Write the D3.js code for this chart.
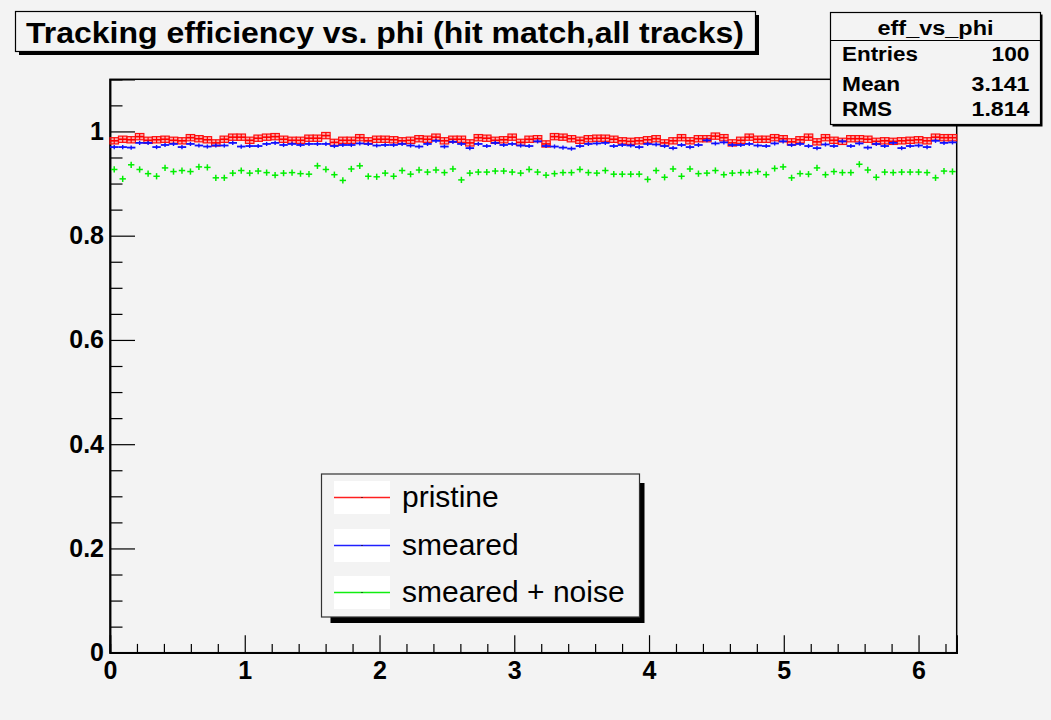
<!DOCTYPE html>
<html>
<head>
<meta charset="utf-8">
<script src="https://cdn.jsdelivr.net/npm/d3@7"></script>
<style>
  html, body { margin: 0; padding: 0; background: #f3f3f3; }
  svg { display: block; }
  text { font-family: "Liberation Sans", Arial, Helvetica, sans-serif; }
</style>
</head>
<body>
<svg id="c" width="1051" height="720"></svg>
<script>
// Efficiency per phi bin (100 bins over [0, 2*pi])
const pristine = [
  0.982,0.985,0.984,0.990,0.983,0.984,0.985,0.983,0.982,0.988,
  0.986,0.984,0.978,0.985,0.989,0.989,0.983,0.987,0.989,0.990,
  0.985,0.983,0.983,0.987,0.987,0.992,0.979,0.983,0.983,0.988,
  0.982,0.985,0.985,0.984,0.982,0.983,0.986,0.985,0.989,0.982,
  0.985,0.985,0.978,0.988,0.987,0.983,0.984,0.989,0.979,0.985,
  0.986,0.976,0.990,0.989,0.986,0.983,0.986,0.987,0.987,0.985,
  0.982,0.981,0.982,0.984,0.986,0.978,0.982,0.988,0.982,0.986,
  0.986,0.991,0.988,0.978,0.983,0.989,0.985,0.985,0.988,0.986,
  0.980,0.984,0.989,0.980,0.988,0.983,0.981,0.986,0.986,0.985,
  0.981,0.982,0.981,0.982,0.983,0.984,0.982,0.989,0.988,0.988
];
const smeared = [
  0.970,0.970,0.969,0.978,0.978,0.970,0.974,0.976,0.970,0.976,
  0.973,0.971,0.973,0.973,0.978,0.971,0.972,0.972,0.976,0.978,
  0.974,0.976,0.974,0.976,0.976,0.976,0.972,0.974,0.974,0.977,
  0.976,0.973,0.974,0.974,0.976,0.973,0.971,0.976,0.982,0.971,
  0.980,0.976,0.968,0.976,0.972,0.978,0.974,0.976,0.973,0.972,
  0.981,0.972,0.971,0.969,0.967,0.972,0.976,0.977,0.978,0.972,
  0.974,0.973,0.970,0.976,0.975,0.972,0.968,0.974,0.970,0.974,
  0.983,0.977,0.979,0.974,0.974,0.976,0.973,0.972,0.977,0.981,
  0.974,0.976,0.972,0.968,0.975,0.972,0.981,0.972,0.977,0.969,
  0.976,0.972,0.978,0.968,0.972,0.973,0.970,0.982,0.978,0.979
];
const smearedNoise = [
  0.927,0.909,0.936,0.927,0.919,0.914,0.930,0.923,0.925,0.923,
  0.932,0.931,0.911,0.911,0.920,0.925,0.920,0.924,0.921,0.916,
  0.920,0.921,0.919,0.918,0.934,0.927,0.917,0.906,0.928,0.934,
  0.914,0.913,0.920,0.914,0.925,0.918,0.926,0.922,0.926,0.921,
  0.928,0.907,0.920,0.922,0.922,0.924,0.924,0.922,0.920,0.927,
  0.922,0.916,0.919,0.921,0.921,0.927,0.921,0.920,0.925,0.918,
  0.918,0.918,0.918,0.908,0.925,0.912,0.928,0.914,0.928,0.919,
  0.920,0.925,0.917,0.920,0.921,0.921,0.923,0.917,0.929,0.932,
  0.911,0.919,0.918,0.930,0.917,0.923,0.921,0.921,0.937,0.926,
  0.912,0.922,0.921,0.922,0.922,0.922,0.921,0.911,0.924,0.923
];
// statistical uncertainty per bin for each sample
const errPristine = 0.006;
const errSmeared = 0.004;
const errNoise = 0.006;

const nBins = 100;
const phiMax = 2 * Math.PI;
const yMax = 1.1;

const titleText = "Tracking efficiency vs. phi (hit match,all tracks)";
const statsName = "eff_vs_phi";
const statsLabels = ["Entries", "Mean", "RMS"];
const statsValues = ["100", "3.141", "1.814"];
const legendLabels = ["pristine", "smeared", "smeared + noise"];
const xMajorTicks = [0, 1, 2, 3, 4, 5, 6];
const yMajorTicks = [0, 0.2, 0.4, 0.6, 0.8, 1.0];
const yTickLabels = ["0", "0.2", "0.4", "0.6", "0.8", "1"];

const svg = d3.select("#c");
const bg = "#f3f3f3";
svg.append("rect").attr("width", 1051).attr("height", 720).attr("fill", bg);

const x = d3.scaleLinear().domain([0, phiMax]).range([110, 956.7]);
const y = d3.scaleLinear().domain([0, yMax]).range([652.7, 79.3]);
const binW = phiMax / nBins;
const bins = d3.range(nBins).map(i => ({ lo: i * binW, hi: (i + 1) * binW, mid: (i + 0.5) * binW }));

// frame
svg.append("rect")
  .attr("x", x(0)).attr("y", y(yMax))
  .attr("width", x(phiMax) - x(0)).attr("height", y(0) - y(yMax))
  .attr("fill", bg).attr("stroke", "#000").attr("stroke-width", 1.5);

// axes: ticks drawn inward
const labelFont = 'bold 25px "Liberation Sans", Arial, Helvetica, sans-serif';
svg.append("g").attr("transform", `translate(${x(0)},0)`)
  .call(d3.axisLeft(y).tickValues(yMajorTicks).tickSize(-25).tickPadding(6)
    .tickFormat((d, i) => yTickLabels[i]));
svg.append("g").attr("transform", `translate(${x(0)},0)`)
  .call(d3.axisLeft(y).tickValues(d3.range(1, 22).map(k => k * 0.05).filter((v, k) => (k + 1) % 4 !== 0))
    .tickSize(-12.5).tickFormat(""));
svg.append("g").attr("transform", `translate(0,${y(0)})`)
  .call(d3.axisBottom(x).tickValues(xMajorTicks).tickSize(-17.5).tickPadding(9).tickFormat(d3.format("d")));
svg.append("g").attr("transform", `translate(0,${y(0)})`)
  .call(d3.axisBottom(x).tickValues(d3.range(0, 32).map(k => k * 0.2).filter((v, k) => k % 5 !== 0 && v < phiMax))
    .tickSize(-8.8).tickFormat(""));
svg.selectAll(".domain").attr("stroke", "#000").attr("stroke-width", 1.5);
svg.selectAll(".tick line").attr("stroke", "#000").attr("stroke-width", 1.2);
svg.selectAll(".tick text").style("font", labelFont).attr("fill", "#000");

// pristine: boxed error bars
const gP = svg.append("g");
gP.selectAll("rect").data(bins).join("rect")
  .attr("x", d => x(d.lo)).attr("width", d => x(d.hi) - x(d.lo))
  .attr("y", (d, i) => y(pristine[i] + errPristine))
  .attr("height", (d, i) => y(pristine[i] - errPristine) - y(pristine[i] + errPristine))
  .attr("fill", "rgba(255,60,60,0.35)").attr("stroke", "#ff1010").attr("stroke-width", 1.2);
gP.selectAll("line.h").data(bins).join("line").attr("class", "h")
  .attr("x1", d => x(d.lo)).attr("x2", d => x(d.hi))
  .attr("y1", (d, i) => y(pristine[i])).attr("y2", (d, i) => y(pristine[i]))
  .attr("stroke", "#ff0000").attr("stroke-width", 1.6);
gP.selectAll("line.v").data(bins).join("line").attr("class", "v")
  .attr("x1", d => x(d.mid)).attr("x2", d => x(d.mid))
  .attr("y1", (d, i) => y(pristine[i] + errPristine)).attr("y2", (d, i) => y(pristine[i] - errPristine))
  .attr("stroke", "#ff0000").attr("stroke-width", 1.2);

// smeared: bin-wide bars with short error ticks
const gS = svg.append("g");
gS.selectAll("line.h").data(bins).join("line").attr("class", "h")
  .attr("x1", d => x(d.lo)).attr("x2", d => x(d.hi))
  .attr("y1", (d, i) => y(smeared[i])).attr("y2", (d, i) => y(smeared[i]))
  .attr("stroke", "#1010ff").attr("stroke-width", 1.8);
gS.selectAll("line.v").data(bins).join("line").attr("class", "v")
  .attr("x1", d => x(d.mid)).attr("x2", d => x(d.mid))
  .attr("y1", (d, i) => y(smeared[i] + errSmeared)).attr("y2", (d, i) => y(smeared[i] - errSmeared))
  .attr("stroke", "#1010ff").attr("stroke-width", 1.4);

// smeared + noise: cross markers
const gN = svg.append("g");
const crossHalf = 3.2;
gN.selectAll("line.h").data(bins).join("line").attr("class", "h")
  .attr("x1", d => x(d.mid) - crossHalf).attr("x2", d => x(d.mid) + crossHalf)
  .attr("y1", (d, i) => y(smearedNoise[i])).attr("y2", (d, i) => y(smearedNoise[i]))
  .attr("stroke", "#00ee00").attr("stroke-width", 1.5);
gN.selectAll("line.v").data(bins).join("line").attr("class", "v")
  .attr("x1", d => x(d.mid)).attr("x2", d => x(d.mid))
  .attr("y1", (d, i) => y(smearedNoise[i] + errNoise)).attr("y2", (d, i) => y(smearedNoise[i] - errNoise))
  .attr("stroke", "#00ee00").attr("stroke-width", 1.5);

// title box with shadow
svg.append("rect").attr("x", 19).attr("y", 15).attr("width", 740).attr("height", 40).attr("fill", "#000");
svg.append("rect").attr("x", 15.5).attr("y", 11.5).attr("width", 740).attr("height", 40)
  .attr("fill", bg).attr("stroke", "#000").attr("stroke-width", 1.2);
svg.append("text").attr("x", 26).attr("y", 42.5)
  .attr("textLength", 718).attr("lengthAdjust", "spacingAndGlyphs")
  .style("font", 'bold 30px "Liberation Sans", Arial, Helvetica, sans-serif').text(titleText);

// statistics box
const sb = { x: 830.5, y: 12.5, w: 210, h: 112 };
svg.append("rect").attr("x", sb.x + 2).attr("y", sb.y + 2).attr("width", sb.w).attr("height", sb.h).attr("fill", "#000");
svg.append("rect").attr("x", sb.x).attr("y", sb.y).attr("width", sb.w).attr("height", sb.h)
  .attr("fill", bg).attr("stroke", "#000").attr("stroke-width", 1.2);
svg.append("line").attr("x1", sb.x).attr("x2", sb.x + sb.w).attr("y1", 40.5).attr("y2", 40.5)
  .attr("stroke", "#000").attr("stroke-width", 1.2);
const statFont = 'bold 20px "Liberation Sans", Arial, Helvetica, sans-serif';
svg.append("text").attr("x", sb.x + sb.w / 2).attr("y", 35).attr("text-anchor", "middle")
  .attr("textLength", 116).attr("lengthAdjust", "spacingAndGlyphs")
  .style("font", statFont).text(statsName);
const labelLens = [76, 58, 50];
const valueLens = [38, 58, 58];
const rowY = [60.5, 90.5, 115.5];
statsLabels.forEach((t, i) => {
  svg.append("text").attr("x", 842).attr("y", rowY[i])
    .attr("textLength", labelLens[i]).attr("lengthAdjust", "spacingAndGlyphs")
    .style("font", statFont).text(t);
  svg.append("text").attr("x", 1029.5 - valueLens[i]).attr("y", rowY[i])
    .attr("textLength", valueLens[i]).attr("lengthAdjust", "spacingAndGlyphs")
    .style("font", statFont).text(statsValues[i]);
});

// legend
const lg = { x: 321.5, y: 474, w: 318, h: 143 };
svg.append("rect").attr("x", lg.x + 9).attr("y", lg.y + 9).attr("width", lg.w - 4).attr("height", lg.h - 3).attr("fill", "#000");
svg.append("rect").attr("x", lg.x).attr("y", lg.y).attr("width", lg.w).attr("height", lg.h)
  .attr("fill", bg).attr("stroke", "#333").attr("stroke-width", 1.2);
const legendColors = ["#ff2020", "#2020ff", "#10ee10"];
const rowTop = [481, 529, 576];
const baselines = [507, 555, 602];
legendLabels.forEach((t, i) => {
  svg.append("rect").attr("x", 334).attr("y", rowTop[i]).attr("width", 56).attr("height", 33).attr("fill", "#fff");
  const cy = rowTop[i] + 16.5;
  svg.append("line").attr("x1", 334).attr("x2", 390).attr("y1", cy).attr("y2", cy)
    .attr("stroke", legendColors[i]).attr("stroke-width", 1.4);
  svg.append("rect").attr("x", 361.5).attr("y", cy - 0.5).attr("width", 1).attr("height", 1).attr("fill", "#000");
  svg.append("text").attr("x", 402).attr("y", baselines[i])
    .style("font", '30px "Liberation Sans", Arial, Helvetica, sans-serif').text(t);
});
</script>
</body>
</html>
